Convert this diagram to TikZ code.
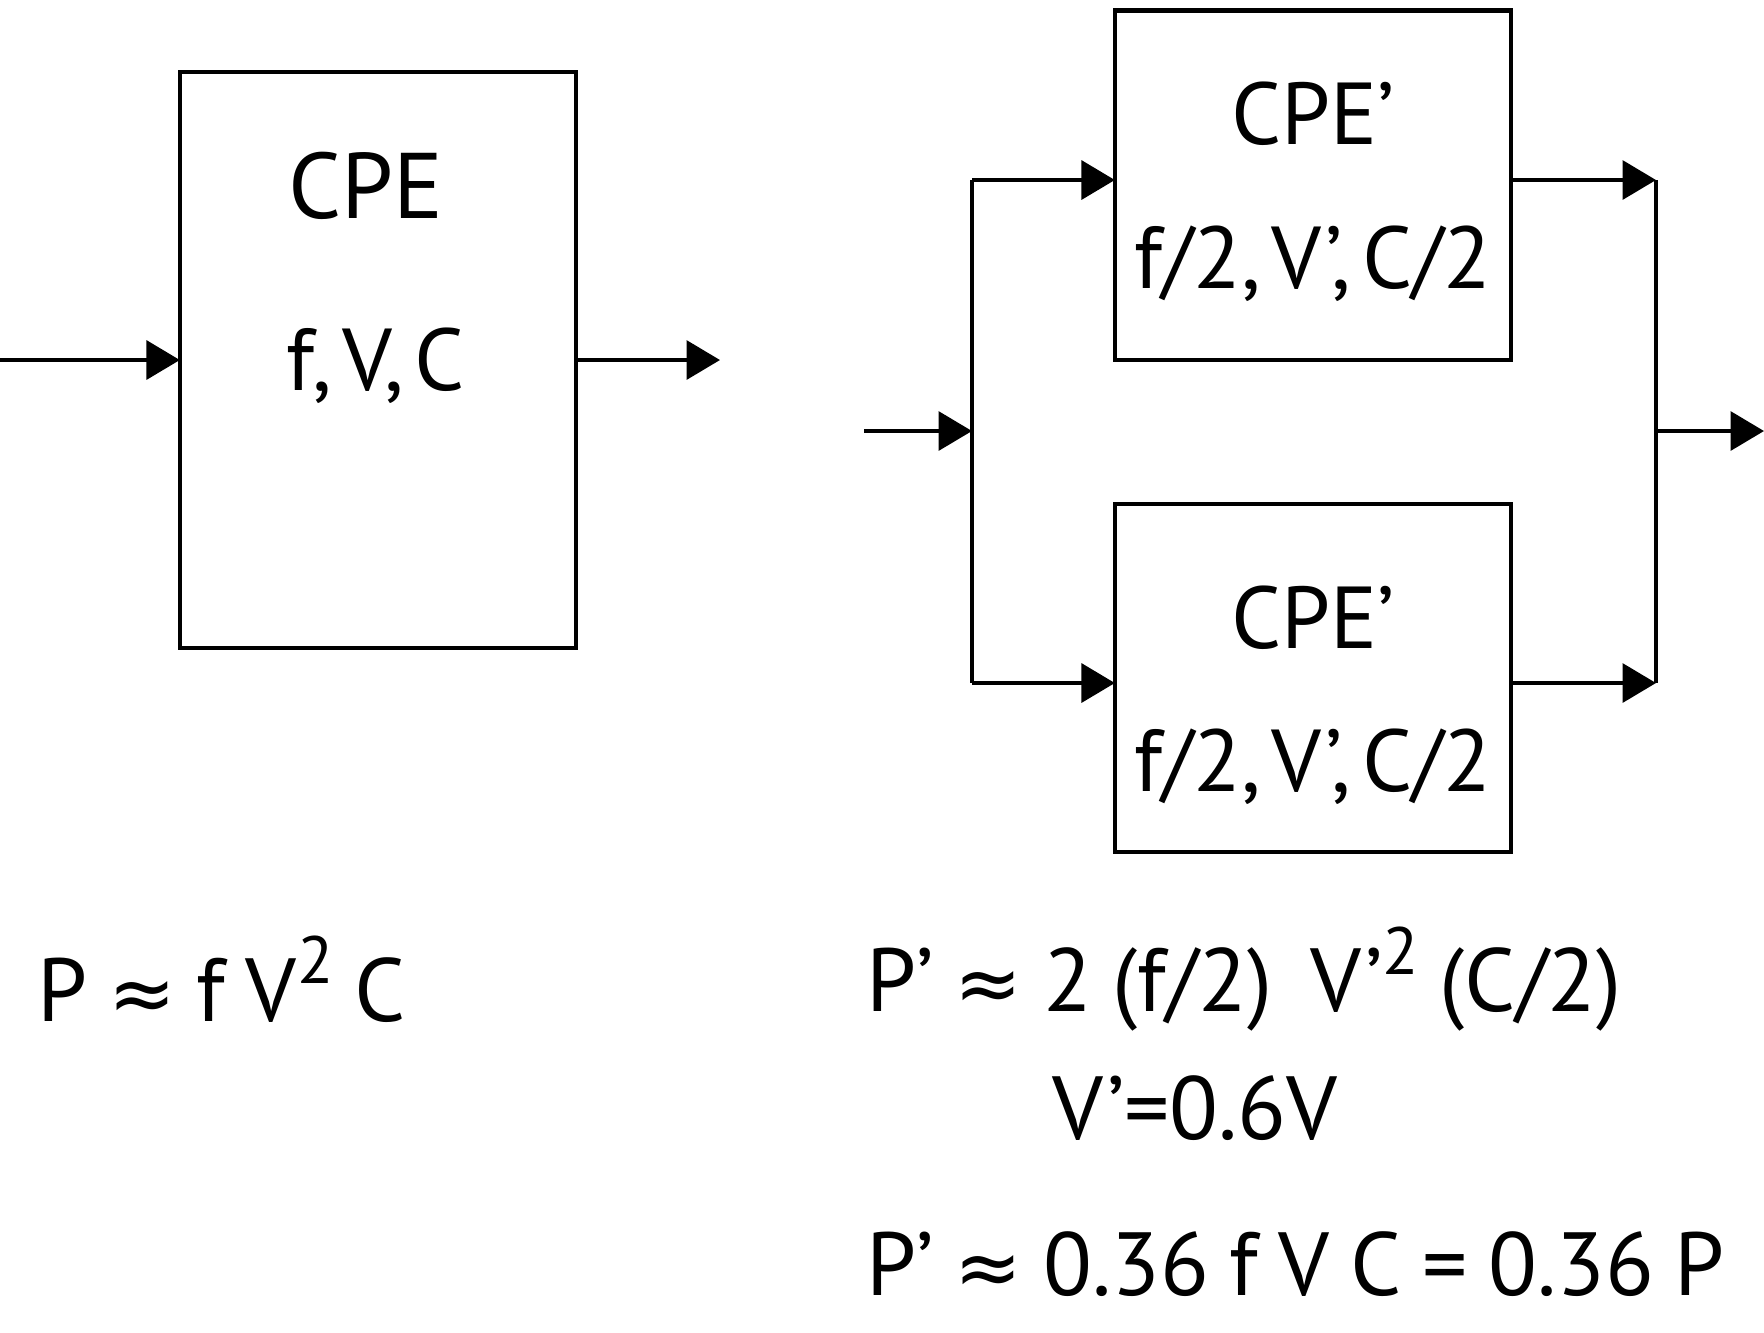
\documentclass[tikz,border=0pt]{standalone}
\usepackage{fontspec}
\setmainfont{PT Sans}
\newfontfamily\symf{DejaVu Sans}
\usetikzlibrary{arrows.meta}
\newcommand{\apx}{{\symf\fontsize{23}{24}\selectfont ≈}}
\newcommand{\sqr}{\raisebox{0.42em}{\fontsize{19}{20}\selectfont 2}}
\newcommand{\lblfont}{\fontsize{25}{30}\selectfont\spaceskip=0.12em plus 0em\relax}
\newcommand{\eqfont}{\fontsize{25.5}{31}\selectfont\spaceskip=0.23em plus 0em\relax}
\begin{document}
\begin{tikzpicture}[x=0.01cm,y=-0.01cm,
  box/.style={draw,line width=1.2pt,rectangle,inner sep=0pt,outer sep=0pt},
  conn/.style={line width=1.2pt},
  arr/.style={line width=1.2pt,-{Triangle[length=9.5pt,width=11pt]}},
  lbl/.style={inner sep=0pt,font=\lblfont},
  big/.style={inner sep=0pt,font=\fontsize{26.5}{32}\selectfont},
  eq/.style={inner sep=0pt,anchor=west,font=\eqfont}]
\useasboundingbox (0,0) rectangle (1764,1332);
% ---- left single CPE
\node[box,minimum width=3.96cm,minimum height=5.76cm] (B1) at (378,360) {};
\node[big] (t1) at (366,186) {CPE};
\node[lbl] (s1) at (376,366) {f, V, C};
\coordinate (inL) at (0,360);
\coordinate (outL) at (720,360);
\draw[arr] (inL) -- (B1.west);
\draw[arr] (B1.east) -- (outL);
% ---- right: two CPE'
\node[box,minimum width=3.96cm,minimum height=3.49cm] (B2) at (1313,185) {};
\node[box,minimum width=3.96cm,minimum height=3.48cm] (B3) at (1313,678) {};
\node[lbl] (t2) at (1313,114) {CPE’};
\node[lbl] (s2) at (1313,264) {f/2, V’, C/2};
\node[lbl] (t3) at (1313,618) {CPE’};
\node[lbl] (s3) at (1313,767) {f/2, V’, C/2};
\coordinate (inR) at (864,431);
\coordinate (splitM) at (972,431);
\coordinate (splitT) at (972,180);
\coordinate (splitB) at (972,683);
\coordinate (joinT) at (1656,180);
\coordinate (joinB) at (1656,683);
\coordinate (joinM) at (1656,431);
\coordinate (outR) at (1764,431);
\draw[arr] (inR) -- (splitM);
\draw[conn] (splitT) -- (splitB);
\draw[arr] (splitT) -- (B2.west |- splitT);
\draw[arr] (splitB) -- (B3.west |- splitB);
\draw[arr] (B2.east |- joinT) -- (joinT);
\draw[arr] (B3.east |- joinB) -- (joinB);
\draw[conn] (joinT) -- (joinB);
\draw[arr] (joinM) -- (outR);
% ---- equations
\node[eq] (e1) at (37,979) {P \apx{} f V\sqr{} C};
\node[eq] (e2) at (866,979) {P’ \apx{} 2 (f/2)\hspace{0.2em} V’\sqr{} (C/2)};
\node[eq] (e3) at (1052,1108) {V’=0.6V};
\node[eq] (e4) at (866,1264) {P’ \apx{} 0.36 f V C = 0.36 P};
\end{tikzpicture}
\end{document}
